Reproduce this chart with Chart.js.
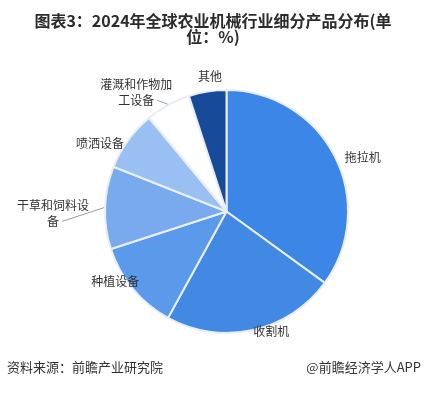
<!DOCTYPE html>
<html>
<head>
<meta charset="utf-8">
<script src="https://cdn.jsdelivr.net/npm/chart.js@4.4.0/dist/chart.umd.min.js"></script>
<style>
  html, body { margin: 0; padding: 0; background: #fff; }
  #wrap { position: relative; width: 427px; height: 396px; }
</style>
</head>
<body>
<div id="wrap"><canvas id="pieChart" width="427" height="396"></canvas></div>
<script>
// data (percent)
var categories = ['拖拉机', '收割机', '种植设备', '干草和饲料设备', '喷洒设备', '灌溉和作物加工设备', '其他'];
var shares = [35, 23, 12, 11, 8, 6, 5];
var sliceColors = ['#3b86e6', '#4289e3', '#5b99ea', '#79aaee', '#99bff3', '#ffffff', '#174a98'];
var titleLines = ['图表3：2024年全球农业机械行业细分产品分布(单', '位：%)'];
var sourceText = '资料来源：前瞻产业研究院';
var brandText = '@前瞻经济学人APP';

// label nudges relative to the computed anchor, and which labels get a leader line
var labelNudge = [[1, 6], [-2, -8], [14, -14], [-6, 6], [4, 9], [9, -4], [16, -5]];
var leaderLine = [false, false, false, true, false, true, false];

var CJK = '"Noto Sans CJK SC", "Noto Sans", sans-serif';

function wrapLabel(s) {
    var out = [];
    for (var i = 0; i < s.length; i += 6) out.push(s.slice(i, i + 6));
    return out;
}

var outerLabels = {
    id: 'outerLabels',
    afterDatasetsDraw: function (chart) {
        var ctx = chart.ctx;
        var arcs = chart.getDatasetMeta(0).data;
        ctx.save();
        ctx.font = '12px ' + CJK;
        ctx.fillStyle = '#333';
        ctx.textAlign = 'center';
        ctx.textBaseline = 'middle';
        arcs.forEach(function (arc, i) {
            var p = arc.getProps(['x', 'y', 'startAngle', 'endAngle', 'outerRadius'], true);
            var mid = (p.startAngle + p.endAngle) / 2;
            var ax = p.x + Math.cos(mid) * (p.outerRadius + 10);
            var ay = p.y + Math.sin(mid) * (p.outerRadius + 10);
            var lines = wrapLabel(categories[i]);
            var w = 0;
            lines.forEach(function (l) { w = Math.max(w, ctx.measureText(l).width); });
            var right = Math.cos(mid) >= 0;
            var tx = ax + (right ? w / 2 : -w / 2) + labelNudge[i][0];
            var ty = ay + labelNudge[i][1];
            var lh = 16;
            var y0 = ty - (lines.length - 1) * lh / 2;
            lines.forEach(function (l, k) { ctx.fillText(l, tx, y0 + k * lh); });

            if (leaderLine[i]) {
                var lastW = ctx.measureText(lines[lines.length - 1]).width;
                var lx = lines.length > 1 && lastW < w ? tx + lastW / 2 + 3 : tx + w / 2 + 2;
                var ly = lines.length > 1 && lastW < w ? y0 + (lines.length - 1) * lh : y0;
                var ex = p.x + Math.cos(mid) * (p.outerRadius + 1);
                var ey = p.y + Math.sin(mid) * (p.outerRadius + 1);
                ctx.strokeStyle = '#9a9a9a';
                ctx.lineWidth = 1;
                ctx.beginPath();
                ctx.moveTo(lx, ly);
                ctx.lineTo(ex, ey);
                ctx.stroke();
            }
        });
        ctx.restore();
    }
};

var pageText = {
    id: 'pageText',
    afterDraw: function (chart) {
        var ctx = chart.ctx;
        ctx.save();
        ctx.fillStyle = '#2b2b2b';
        ctx.font = 'bold 16px ' + CJK;
        ctx.textAlign = 'center';
        ctx.textBaseline = 'middle';
        ctx.fillText(titleLines[0], 213, 21);
        ctx.fillText(titleLines[1], 213, 37);

        ctx.font = '13px ' + CJK;
        ctx.fillStyle = '#333';
        ctx.textAlign = 'left';
        ctx.fillText(sourceText, 7, 367);
        ctx.textAlign = 'right';
        ctx.fillText(brandText, 421, 367);
        ctx.restore();
    }
};

new Chart(document.getElementById('pieChart'), {
    type: 'pie',
    data: {
        labels: categories,
        datasets: [{
            data: shares,
            backgroundColor: sliceColors,
            borderColor: '#e9eef5',
            borderWidth: 2
        }]
    },
    options: {
        responsive: false,
        animation: false,
        layout: { padding: { top: 88, bottom: 61, left: 104, right: 78 } },
        plugins: {
            legend: { display: false },
            tooltip: { enabled: false },
            title: { display: false }
        }
    },
    plugins: [outerLabels, pageText]
});
</script>
</body>
</html>
